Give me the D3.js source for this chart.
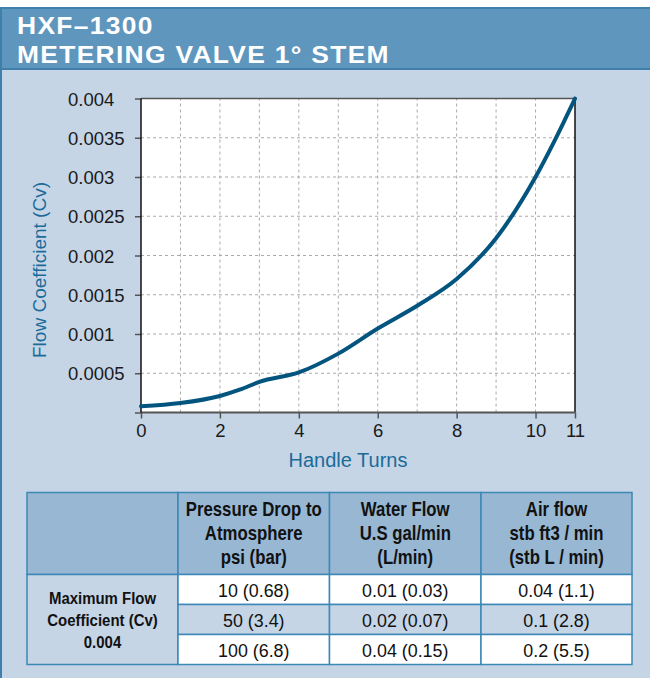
<!DOCTYPE html>
<html>
<head>
<meta charset="utf-8">
<script src="https://cdn.jsdelivr.net/npm/d3@7"></script>
<style>
  body { margin: 0; background: #fff; }
</style>
</head>
<body>
<script>
// curve
var turns = [0, 1, 2, 2.5, 3, 4, 5, 6, 7, 8, 9, 10, 10.5, 11];
var cv = [0.00008, 0.00012, 0.00021, 0.00029, 0.00039, 0.00051, 0.00075, 0.00107, 0.00136, 0.00170, 0.00222, 0.00300, 0.00348, 0.0040];

var xTicks = [0, 2, 4, 6, 8, 10, 11];
var yTicks = [0, 0.0005, 0.001, 0.0015, 0.002, 0.0025, 0.003, 0.0035, 0.004];
var yTickLabels = ["", "0.0005", "0.001", "0.0015", "0.002", "0.0025", "0.003", "0.0035", "0.004"];

var titleLines = ["HXF–1300", "METERING VALVE 1° STEM"];

// table
var colHeads = [
  [],
  ["Pressure Drop to", "Atmosphere", "psi (bar)"],
  ["Water Flow", "U.S gal/min", "(L/min)"],
  ["Air flow", "stb ft3 / min", "(stb L / min)"]
];
var rowHead = ["Maximum Flow", "Coefficient (Cv)", "0.004"];
var pressure = ["10 (0.68)", "50 (3.4)", "100 (6.8)"];
var water = ["0.01 (0.03)", "0.02 (0.07)", "0.04 (0.15)"];
var air = ["0.04 (1.1)", "0.1 (2.8)", "0.2 (5.5)"];

var W = 650, H = 678;
var font = "'Liberation Sans', Arial, sans-serif";
var svg = d3.select("body").append("svg")
  .attr("width", W)
  .attr("height", H)
  .attr("font-family", font);

// panel background
svg.append("rect")
  .attr("x", 1).attr("y", 8).attr("width", W + 5).attr("height", H)
  .attr("fill", "#c5d5e6")
  .attr("stroke", "#3f7fa9").attr("stroke-width", 2);

svg.append("rect")
  .attr("x", 1).attr("y", 8).attr("width", W + 5).attr("height", 61)
  .attr("fill", "#5f96bd")
  .attr("stroke", "#3f7fa9").attr("stroke-width", 2);

svg.selectAll("text.title")
  .data(titleLines)
  .enter()
  .append("text")
  .attr("class", "title")
  .attr("transform", (d, i) => "translate(17," + (33.5 + i * 29.3) + ") scale(1.1,1)")
  .attr("fill", "#fff")
  .attr("font-size", "24px")
  .attr("font-weight", "bold")
  .attr("letter-spacing", "1.2px")
  .text((d) => d);

// chart
var x = d3.scaleLinear().domain([0, 11]).range([141, 575]);
var y = d3.scaleLinear().domain([0, 0.004]).range([412.5, 98.5]);

svg.append("rect")
  .attr("x", x(0)).attr("y", y(0.004))
  .attr("width", x(11) - x(0)).attr("height", y(0) - y(0.004))
  .attr("fill", "#fff");

var grid = svg.append("g");
grid.selectAll("line.v")
  .data(d3.range(1, 11))
  .enter()
  .append("line")
  .attr("x1", (d) => x(d)).attr("x2", (d) => x(d))
  .attr("y1", y(0)).attr("y2", y(0.004))
  .attr("stroke", "#aaa").attr("stroke-dasharray", "3,3");
grid.selectAll("line.h")
  .data(yTicks.slice(1, -1))
  .enter()
  .append("line")
  .attr("x1", x(0)).attr("x2", x(11))
  .attr("y1", (d) => y(d)).attr("y2", (d) => y(d))
  .attr("stroke", "#aaa").attr("stroke-dasharray", "3,3");

// top and right frame
svg.append("line")
  .attr("x1", x(0)).attr("x2", x(11)).attr("y1", y(0.004)).attr("y2", y(0.004))
  .attr("stroke", "#555").attr("stroke-width", 1.5);
svg.append("line")
  .attr("x1", x(11)).attr("x2", x(11)).attr("y1", y(0)).attr("y2", y(0.004))
  .attr("stroke", "#111").attr("stroke-width", 1.5);

var xAxis = d3.axisBottom(x).tickValues(xTicks).tickSize(6).tickPadding(5);
var yAxis = d3.axisLeft(y).tickValues(yTicks).tickSize(6)
  .tickFormat((d, i) => yTickLabels[i]);

var gx = svg.append("g")
  .attr("transform", "translate(0," + y(0) + ")")
  .call(xAxis);
var gy = svg.append("g")
  .attr("transform", "translate(" + x(0) + ",0)")
  .call(yAxis);

[gx, gy].forEach(function (g) {
  g.attr("font-family", font).attr("font-size", 18.5);
  g.select(".domain").remove();
  g.selectAll(".tick line").attr("stroke", "#555").attr("stroke-width", 1.5);
  g.selectAll(".tick text").attr("fill", "#1a1a1a");
});
// y labels are left aligned in the original
gy.attr("text-anchor", "start");
gy.selectAll(".tick text").attr("x", -73).attr("dy", "0.36em");

svg.append("line")
  .attr("x1", x(0)).attr("x2", x(11)).attr("y1", y(0)).attr("y2", y(0))
  .attr("stroke", "#555").attr("stroke-width", 2);
svg.append("line")
  .attr("x1", x(0)).attr("x2", x(0)).attr("y1", y(0)).attr("y2", y(0.004))
  .attr("stroke", "#111").attr("stroke-width", 1.5);

var line = d3.line()
  .x((d, i) => x(turns[i]))
  .y((d) => y(d))
  .curve(d3.curveMonotoneX);

svg.append("path")
  .datum(cv)
  .attr("d", line)
  .attr("fill", "none")
  .attr("stroke", "#03557f")
  .attr("stroke-width", 4)
  .attr("stroke-linecap", "round");

svg.append("text")
  .attr("x", 348).attr("y", 467)
  .attr("text-anchor", "middle")
  .attr("font-size", "20px")
  .attr("fill", "#1b6b99")
  .text("Handle Turns");

svg.append("text")
  .attr("transform", "translate(46,270) rotate(-90)")
  .attr("text-anchor", "middle")
  .attr("font-size", "19px")
  .attr("fill", "#1b6b99")
  .text("Flow Coefficient (Cv)");

// table
var colX = [27, 178, 329.5, 481, 632];
var rowY = [492.5, 574.5, 604.5, 634.5, 664.5];
var tb = svg.append("g");

tb.selectAll("rect.head")
  .data(colHeads)
  .enter()
  .append("rect")
  .attr("x", (d, i) => colX[i]).attr("y", rowY[0])
  .attr("width", (d, i) => colX[i + 1] - colX[i]).attr("height", rowY[1] - rowY[0])
  .attr("fill", "#97b7d3").attr("stroke", "#3d88b6").attr("stroke-width", 1.5);

tb.append("rect")
  .attr("x", colX[0]).attr("y", rowY[1])
  .attr("width", colX[1] - colX[0]).attr("height", rowY[4] - rowY[1])
  .attr("fill", "#c5d5e6").attr("stroke", "#3d88b6").attr("stroke-width", 1.5);

var cols = [pressure, water, air];
cols.forEach(function (vals, c) {
  var cx = (colX[c + 1] + colX[c + 2]) / 2;
  tb.selectAll("rect.c" + c)
    .data(vals)
    .enter()
    .append("rect")
    .attr("x", colX[c + 1]).attr("y", (d, r) => rowY[r + 1])
    .attr("width", colX[c + 2] - colX[c + 1]).attr("height", (d, r) => rowY[r + 2] - rowY[r + 1])
    .attr("fill", (d, r) => r === 1 ? "#c5d5e6" : "#fff")
    .attr("stroke", "#3d88b6").attr("stroke-width", 1.5);
  tb.selectAll("text.c" + c)
    .data(vals)
    .enter()
    .append("text")
    .attr("transform", (d, r) => "translate(" + cx + "," + (rowY[r + 1] + 22.5) + ") scale(0.94,1)")
    .attr("text-anchor", "middle")
    .attr("font-size", "19px")
    .attr("fill", "#111")
    .text((d) => d);
});

colHeads.forEach(function (lines, c) {
  var cx = (colX[c] + colX[c + 1]) / 2;
  tb.selectAll("text.h" + c)
    .data(lines)
    .enter()
    .append("text")
    .attr("transform", (d, i) => "translate(" + cx + "," + (516 + i * 24) + ") scale(0.86,1)")
    .attr("text-anchor", "middle")
    .attr("font-weight", "bold")
    .attr("font-size", "19.5px")
    .attr("fill", "#111")
    .text((d) => d);
});

tb.selectAll("text.rh")
  .data(rowHead)
  .enter()
  .append("text")
  .attr("transform", (d, i) => "translate(" + ((colX[0] + colX[1]) / 2) + "," + (604 + i * 22) + ") scale(0.88,1)")
  .attr("text-anchor", "middle")
  .attr("font-weight", "bold")
  .attr("font-size", "17px")
  .attr("fill", "#111")
  .text((d) => d);
</script>
</body>
</html>
